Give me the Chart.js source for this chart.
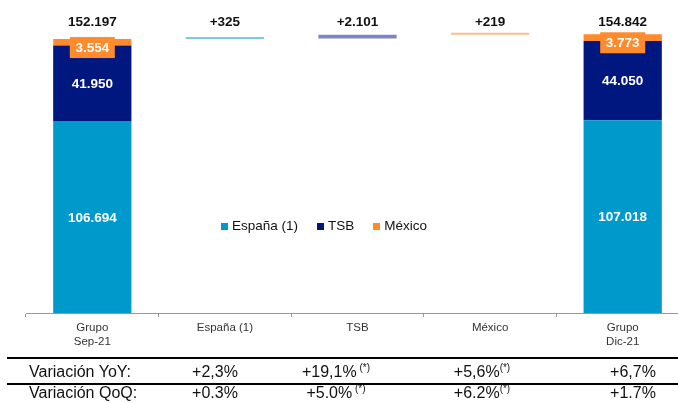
<!DOCTYPE html>
<html>
<head>
<meta charset="utf-8">
<script src="https://cdn.jsdelivr.net/npm/chart.js@4/dist/chart.umd.min.js"></script>
<style>
  body { margin: 0; width: 678px; height: 403px; overflow: hidden; background: #fff; position: relative; font-family: Arial, "Liberation Sans", sans-serif; }
  #wrap { position: absolute; left: 0; top: 0; width: 700px; height: 403px; }
  #legend { position: absolute; left: 221px; top: 219px; display: flex; font-size: 13.5px; line-height: 14px; color: #111; }
  #legend .item { display: flex; align-items: center; margin-right: 19px; }
  #legend .box { width: 7px; height: 7px; margin-right: 4px; }
  .rule { position: absolute; left: 7px; right: 0; height: 2px; background: #000; }
  .row { position: absolute; left: 0; width: 678px; height: 16px; font-size: 16px; line-height: 16px; color: #111; }
  .row span { position: absolute; top: 0; white-space: pre; }
  .row sup { font-size: 10px; vertical-align: 6px; line-height: 0; }
</style>
</head>
<body>
<div id="wrap"><canvas id="chart"></canvas></div>
<div id="legend"></div>
<div class="rule" style="top:357px"></div>
<div class="rule" style="top:383px"></div>
<div class="row" id="row-yoy" style="top:364px"></div>
<div class="row" id="row-qoq" style="top:385px"></div>
<script>
// Datos
const categories = [['Grupo', 'Sep-21'], 'España (1)', 'TSB', 'México', ['Grupo', 'Dic-21']];
const seriesNames = ['España (1)', 'TSB', 'México'];
const espana = [106694, null, null, null, 107018];
const tsb = [41950, null, null, null, 44050];
const mexico = [3554, null, null, null, 3773];
const totals = [152197, null, null, null, 154842];
const deltas = [null, 325, 2101, 219, null];

const rowLabels = ['Variación YoY:', 'Variación QoQ:'];
const yoy = ['+2,3%', '+19,1%', '+5,6%', '+6,7%'];
const yoyNotes = ['', ' (*)', '(*)', ''];
const qoq = ['+0.3%', '+5.0%', '+6.2%', '+1.7%'];
const qoqNotes = ['', ' (*)', '(*)', ''];

// Colores
const colors = ['#0099cc', '#00177f', '#ff8b2c'];
const deltaColors = ['#7fc8e4', '#7b86c1', '#ffbf8a'];

// Barras flotantes del puente (acumulado desde Sep-21)
let running = totals[0];
const bridge = deltas.map(d => {
    if (d === null) return null;
    const seg = [running, running + d];
    running += d;
    return seg;
});

function fmt(v) {
    return String(Math.abs(v)).replace(/\B(?=(\d{3})+(?!\d))/g, '.');
}

// Leyenda
const legend = document.getElementById('legend');
seriesNames.forEach((name, i) => {
    legend.innerHTML += `<div class="item"><div class="box" style="background:${colors[i]}"></div>${name}</div>`;
});

// Tabla de variaciones
const colCenters = [215, 336, 482, 633];
function buildRow(id, label, values, notes) {
    const row = document.getElementById(id);
    row.innerHTML = `<span style="left:29px">${label}</span>`;
    values.forEach((v, i) => {
        const note = notes[i] ? `<sup>${notes[i]}</sup>` : '';
        row.innerHTML += `<span class="cell" style="left:${colCenters[i]}px;transform:translateX(-50%)">${v}${note}</span>`;
    });
}
buildRow('row-yoy', rowLabels[0], yoy, yoyNotes);
buildRow('row-qoq', rowLabels[1], qoq, qoqNotes);

// Etiquetas sobre las barras
const labelsPlugin = {
    id: 'barLabels',
    afterDatasetsDraw(chart) {
        const ctx = chart.ctx;
        const topY = chart.chartArea.top - 3;
        ctx.save();
        ctx.textAlign = 'center';
        ctx.textBaseline = 'middle';
        ctx.font = 'bold 13.5px Arial, "Liberation Sans", sans-serif';

        // España y TSB: texto blanco en el centro
        [0, 1].forEach(di => {
            chart.getDatasetMeta(di).data.forEach((el, i) => {
                const v = chart.data.datasets[di].data[i];
                if (v === null) return;
                ctx.fillStyle = '#fff';
                ctx.fillText(fmt(v), el.x, (el.y + el.base) / 2 + 1);
            });
        });

        // México: caja naranja
        chart.getDatasetMeta(2).data.forEach((el, i) => {
            const v = mexico[i];
            if (v === null) return;
            const top = el.y - 2;
            ctx.fillStyle = colors[2];
            ctx.fillRect(el.x - 22.5, top, 45, 21);
            ctx.fillStyle = '#fff';
            ctx.fillText(fmt(v), el.x, top + 11);
        });

        // Totales y variaciones
        ctx.fillStyle = '#111';
        totals.forEach((v, i) => {
            if (v === null) return;
            const el = chart.getDatasetMeta(0).data[i];
            ctx.fillText(fmt(v), el.x, topY);
        });
        deltas.forEach((v, i) => {
            if (v === null) return;
            const el = chart.getDatasetMeta(3).data[i];
            ctx.fillText('+' + fmt(v), el.x, topY);
        });
        ctx.restore();
    }
};

const ctx = document.getElementById('chart').getContext('2d');
new Chart(ctx, {
    type: 'bar',
    data: {
        labels: categories,
        datasets: [
            { label: seriesNames[0], data: espana, backgroundColor: colors[0], stack: 'grupo' },
            { label: seriesNames[1], data: tsb, backgroundColor: colors[1], stack: 'grupo' },
            { label: seriesNames[2], data: mexico, backgroundColor: colors[2], stack: 'grupo' },
            { label: 'Variación', data: bridge, stack: 'puente', minBarLength: 2,
              backgroundColor: [null, deltaColors[0], deltaColors[1], deltaColors[2], null] }
        ]
    },
    options: {
        responsive: true,
        maintainAspectRatio: false,
        animation: false,
        layout: { padding: { top: 25, left: 26, right: 11, bottom: 40 } },
        datasets: { bar: { grouped: false, categoryPercentage: 1, barPercentage: 0.59, borderWidth: 0 } },
        plugins: { legend: { display: false }, tooltip: { enabled: false } },
        scales: {
            x: {
                stacked: true,
                afterFit(scale) { scale.height = 50; },
                grid: { drawOnChartArea: false, drawTicks: true, tickLength: 4, color: '#999' },
                border: { display: true, color: '#999' },
                ticks: {
                    color: '#333',
                    padding: 4,
                    font: { family: 'Arial, "Liberation Sans", sans-serif', size: 11.5, lineHeight: 1.22 }
                }
            },
            y: {
                display: false,
                stacked: true,
                min: 0,
                max: 160000
            }
        }
    },
    plugins: [labelsPlugin]
});
</script>
</body>
</html>
